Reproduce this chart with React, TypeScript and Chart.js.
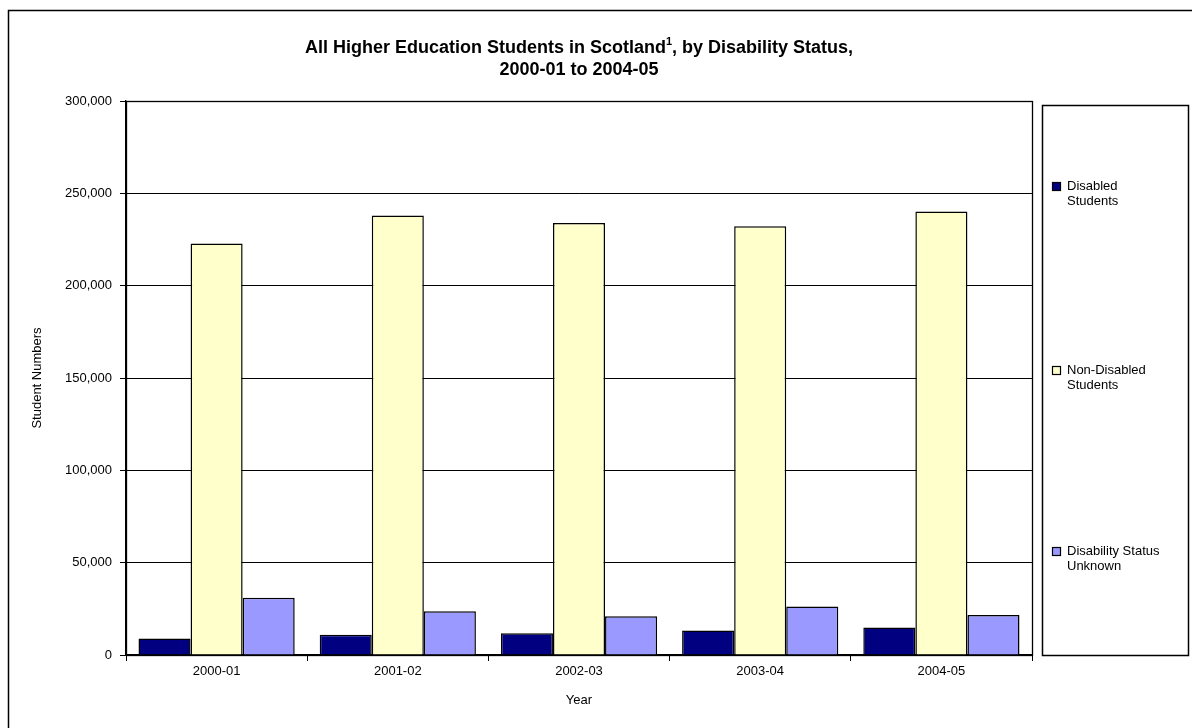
import React, { useEffect, useRef } from "react";
import { Chart, registerables } from "chart.js";

Chart.register(...registerables);

const categories = ["2000-01", "2001-02", "2002-03", "2003-04", "2004-05"];
const disabledStudents = [8900, 10900, 11800, 13300, 14900];
const nonDisabledStudents = [222800, 238000, 234000, 232200, 240200];
const unknownStatus = [31000, 23700, 21000, 26300, 21600];
const seriesLabels = ["Disabled Students", "Non-Disabled Students", "Disability Status Unknown"];
const legendLines = [["Disabled", "Students"], ["Non-Disabled", "Students"], ["Disability Status", "Unknown"]];
const yTicks = [0, 50000, 100000, 150000, 200000, 250000, 300000];
const titleMain = "All Higher Education Students in Scotland";
const titleSup = "1";
const titleRest = ", by Disability Status,";
const titleLine2 = "2000-01 to 2004-05";

const FONT = "'Liberation Sans', Arial, Helvetica, sans-serif";
const LEGEND_OFFSETS = [-194, -10, 171];

const decorPlugin = {
  id: "decor",
  beforeDraw(chart: any) {
    const ctx = chart.ctx;
    ctx.save();
    ctx.fillStyle = "#fff";
    ctx.fillRect(0, 0, chart.width, chart.height);
    ctx.restore();
  },
  afterDraw(chart: any) {
    const ctx = chart.ctx;
    const ca = chart.chartArea;
    ctx.save();
    // outer border
    ctx.strokeStyle = "#000";
    ctx.lineWidth = 1.5;
    ctx.strokeRect(8.5, 10.5, 1300, 900);
    // plot area border
    ctx.lineWidth = 1.3;
    ctx.strokeRect(Math.round(ca.left) + 0.5, Math.round(ca.top) + 0.5, Math.round(ca.right - ca.left), Math.round(ca.bottom - ca.top));

    // title
    const cx = (ca.left + ca.right) / 2;
    ctx.fillStyle = "#000";
    ctx.textBaseline = "alphabetic";
    ctx.textAlign = "left";
    const big = "bold 18px " + FONT;
    const small = "bold 11px " + FONT;
    ctx.font = big;
    const w1 = ctx.measureText(titleMain).width;
    const w3 = ctx.measureText(titleRest).width;
    ctx.font = small;
    const w2 = ctx.measureText(titleSup).width;
    const total = w1 + w2 + w3;
    let x = cx - total / 2;
    ctx.font = big;
    ctx.fillText(titleMain, x, 53);
    x += w1;
    ctx.font = small;
    ctx.fillText(titleSup, x, 45);
    x += w2;
    ctx.font = big;
    ctx.fillText(titleRest, x, 53);
    ctx.textAlign = "center";
    ctx.fillText(titleLine2, cx, 75);

    // legend
    const lx = 1042, ly = 105, lw = 146, lh = 550;
    ctx.lineWidth = 1.5;
    ctx.strokeRect(lx + 0.5, ly + 0.5, lw, lh);
    const midY = ly + lh / 2;
    ctx.font = "13px " + FONT;
    ctx.textAlign = "left";
    ctx.textBaseline = "middle";
    chart.data.datasets.forEach((ds: any, i: number) => {
      const lines = legendLines[i];
      const firstY = midY + LEGEND_OFFSETS[i];
      ctx.fillStyle = ds.backgroundColor;
      ctx.fillRect(1052, firstY - 4, 9, 9);
      ctx.lineWidth = 1.2;
      ctx.strokeStyle = "#000";
      ctx.strokeRect(1052.5, firstY - 3.5, 8, 8);
      ctx.fillStyle = "#000";
      lines.forEach((t: string, k: number) => {
        ctx.fillText(t, 1067, firstY + k * 15.5);
      });
    });
    ctx.restore();
  },
};

export default function App() {
  const ref = useRef<HTMLCanvasElement | null>(null);
  useEffect(() => {
    document.body.style.margin = "0";
    const canvas = ref.current!;
    const chart = new Chart(canvas, {
      type: "bar",
      data: {
        labels: categories,
        datasets: [
          { label: seriesLabels[0], data: disabledStudents, backgroundColor: "#000080", borderColor: "#000", borderWidth: 1.5 },
          { label: seriesLabels[1], data: nonDisabledStudents, backgroundColor: "#FFFFCC", borderColor: "#000", borderWidth: 1.5 },
          { label: seriesLabels[2], data: unknownStatus, backgroundColor: "#9999FF", borderColor: "#000", borderWidth: 1.5 },
        ],
      },
      options: {
        responsive: false,
        animation: false,
        devicePixelRatio: 1,
        layout: { padding: { top: 101, right: 160, left: 0, bottom: 0 } },
        datasets: { bar: { categoryPercentage: 0.862, barPercentage: 1 } },
        plugins: {
          legend: { display: false },
          title: { display: false },
          tooltip: { enabled: false },
        },
        scales: {
          x: {
            afterFit: (s: any) => { s.height = 73; },
            grid: { display: true, drawOnChartArea: false, drawTicks: true, tickLength: 6, color: "#000", offset: true },
            border: { display: true, color: "#000", width: 1.3 },
            ticks: { color: "#000", font: { family: FONT, size: 13 }, padding: 3, maxRotation: 0 },
            title: { display: true, text: "Year", color: "#000", font: { family: FONT, size: 13 }, padding: { bottom: 20, top: 0 } },
          },
          y: {
            min: 0,
            max: 300000,
            afterFit: (s: any) => { s.width = 126; },
            afterBuildTicks: (s: any) => { s.ticks = yTicks.map((v) => ({ value: v })); },
            grid: { color: "#000", lineWidth: 1, tickLength: 6, drawTicks: true },
            border: { display: true, color: "#000", width: 1.3 },
            ticks: {
              color: "#000",
              font: { family: FONT, size: 13 },
              padding: 8,
              callback: (v: any) => Number(v).toLocaleString("en-US"),
            },
            title: { display: true, text: "Student Numbers", color: "#000", font: { family: FONT, size: 13 }, padding: { top: 30, bottom: 0 } },
          },
        },
      },
      plugins: [decorPlugin],
    });
    return () => chart.destroy();
  }, []);
  return <canvas ref={ref} width={1192} height={728} style={{ display: "block", width: 1192, height: 728 }} />;
}
